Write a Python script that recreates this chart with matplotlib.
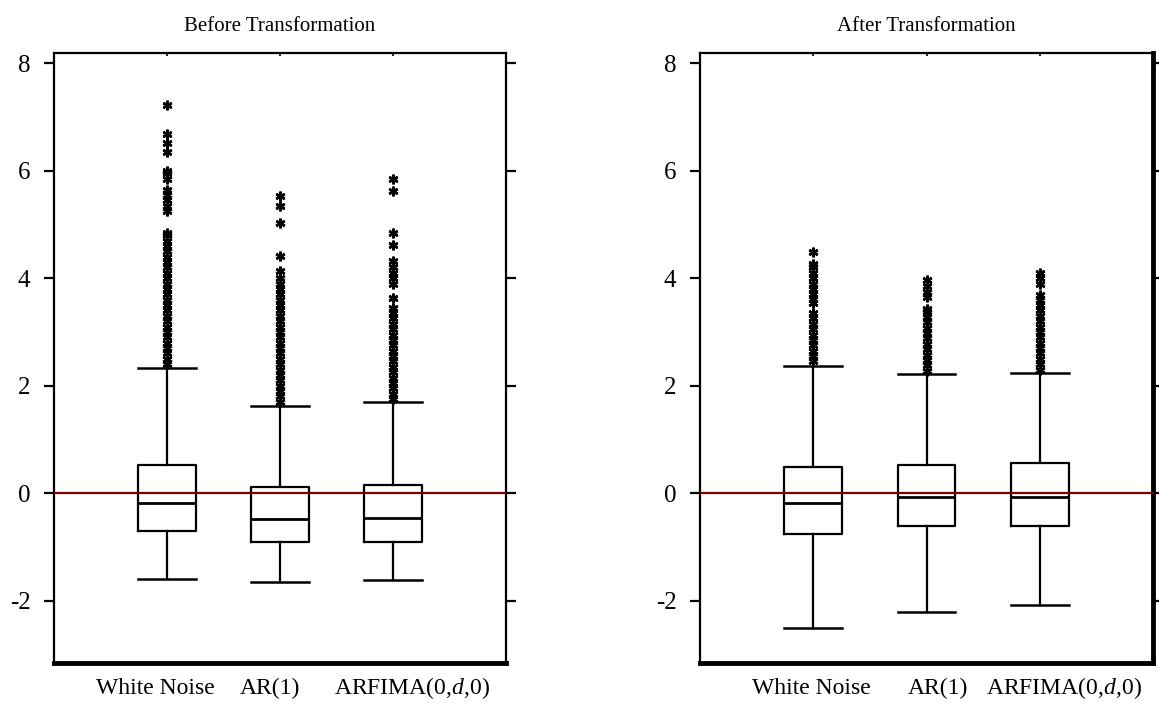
import numpy as np
import matplotlib
matplotlib.use('Agg')
import matplotlib.pyplot as plt

plt.rcParams['font.family'] = 'Liberation Serif'
plt.rcParams['mathtext.fontset'] = 'custom'
plt.rcParams['mathtext.rm'] = 'Liberation Serif'
plt.rcParams['mathtext.it'] = 'Liberation Serif:italic'

labels = ['White Noise', 'AR(1)', 'ARFIMA(0,$d$,0)']

# before transformation: q1, median, q3, lower whisker, upper whisker
before_q1 = [-0.70, -0.91, -0.91]
before_med = [-0.19, -0.48, -0.46]
before_q3 = [0.52, 0.11, 0.15]
before_lo = [-1.60, -1.65, -1.62]
before_hi = [2.33, 1.62, 1.70]
before_out = [
    [2.4, 2.5, 2.6, 2.7, 2.8, 2.9, 3.0, 3.1, 3.2, 3.3, 3.4, 3.5, 3.6, 3.7,
     3.8, 3.9, 4.0, 4.1, 4.2, 4.3, 4.4, 4.5, 4.6, 4.7, 4.8, 4.84,
     5.25, 5.35, 5.45, 5.55, 5.65, 5.85, 5.95, 6.0, 6.35, 6.51, 6.68, 7.22],
    [1.7, 1.8, 1.9, 2.0, 2.1, 2.2, 2.3, 2.4, 2.5, 2.6, 2.7, 2.8, 2.9, 3.0,
     3.1, 3.2, 3.3, 3.4, 3.5, 3.6, 3.7, 3.8, 3.9, 4.0,
     4.14, 4.42, 5.03, 5.34, 5.53],
    [1.75, 1.85, 1.95, 2.05, 2.15, 2.25, 2.35, 2.45, 2.55, 2.65, 2.75, 2.85,
     2.95, 3.05, 3.15, 3.25, 3.35, 3.45,
     3.64, 3.9, 4.0, 4.1, 4.2, 4.32, 4.62, 4.84, 5.62, 5.84],
]

# after transformation
after_q1 = [-0.76, -0.61, -0.61]
after_med = [-0.19, -0.07, -0.07]
after_q3 = [0.48, 0.52, 0.56]
after_lo = [-2.50, -2.21, -2.08]
after_hi = [2.37, 2.21, 2.23]
after_out = [
    [2.45, 2.55, 2.65, 2.75, 2.85, 2.95, 3.05, 3.15, 3.25, 3.35,
     3.53, 3.62, 3.7, 3.8, 3.9, 4.0, 4.1, 4.2, 4.27, 4.48],
    [2.28, 2.38, 2.48, 2.58, 2.68, 2.78, 2.88, 2.98, 3.08, 3.18, 3.28, 3.38,
     3.42, 3.65, 3.75, 3.85, 3.96],
    [2.3, 2.4, 2.5, 2.6, 2.7, 2.8, 2.9, 3.0, 3.1, 3.2, 3.3, 3.4, 3.5, 3.6,
     3.68, 3.9, 4.0, 4.1],
]

yticks = [-2, 0, 2, 4, 6, 8]


def make_stats(q1, med, q3, lo, hi, out):
    stats = []
    for i in range(len(q1)):
        stats.append(dict(q1=q1[i], med=med[i], q3=q3[i], whislo=lo[i],
                          whishi=hi[i], fliers=out[i]))
    return stats


def draw_panel(ax, stats, title, label_x, thick_right):
    ax.bxp(stats, positions=[1, 2, 3], widths=0.51, capwidths=0.51,
           boxprops=dict(color='black', lw=1.6),
           medianprops=dict(color='black', lw=2),
           whiskerprops=dict(color='black', lw=1.6),
           capprops=dict(color='black', lw=1.8),
           flierprops=dict(marker=(6, 2, 0), markersize=7, markeredgewidth=1.8,
                           markeredgecolor='black', markerfacecolor='black',
                           linestyle='none'))
    ax.axhline(0, color='#800000', lw=1.6, zorder=3)
    ax.set_xlim(0, 4)
    ax.set_ylim(-3.16, 8.19)
    ax.set_yticks(yticks)
    ax.set_yticklabels([str(t) for t in yticks])
    ax.tick_params(axis='y', which='both', direction='out', length=7, width=1.6,
                   labelsize=18, pad=10, left=True, right=True,
                   labelright=False)
    ax.set_xticks([1, 2, 3])
    ax.set_xticklabels([])
    ax.tick_params(axis='x', bottom=False, top=True, direction='in',
                   length=2, width=1.2)
    for s in ['left', 'top', 'right']:
        ax.spines[s].set_linewidth(1.6)
    ax.spines['bottom'].set_linewidth(3.5)
    if thick_right:
        ax.spines['right'].set_linewidth(3.5)
    ax.set_title(title, fontsize=15, pad=16)
    for lx, lab in zip(label_x, labels):
        ax.text(lx, -0.051, lab, transform=ax.get_xaxis_transform(),
                ha='center', va='baseline', fontsize=17)


fig = plt.figure(figsize=(11.59, 7.09), dpi=100)
ax1 = fig.add_axes([54 / 1159, 46 / 709, 452 / 1159, 610 / 709])
ax2 = fig.add_axes([700 / 1159, 46 / 709, 453 / 1159, 610 / 709])

draw_panel(ax1, make_stats(before_q1, before_med, before_q3, before_lo, before_hi, before_out),
           'Before Transformation', [0.894, 1.91, 3.17], False)
draw_panel(ax2, make_stats(after_q1, after_med, after_q3, after_lo, after_hi, after_out),
           'After Transformation', [0.98, 2.10, 3.21], True)

fig.savefig('out.png', dpi=100)
